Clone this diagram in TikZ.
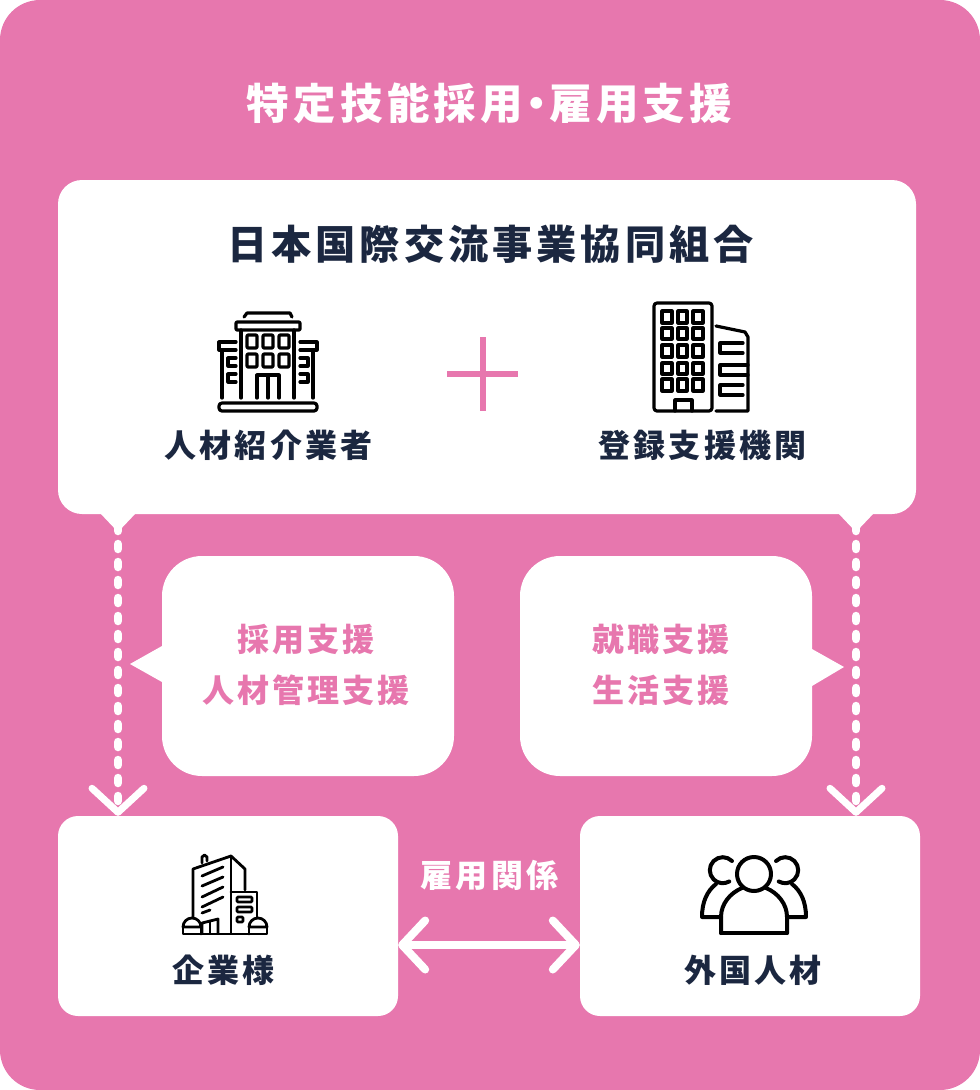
\documentclass[tikz,border=0pt]{standalone}
\usepackage{fontspec}
\usetikzlibrary{arrows.meta}
\newfontfamily\jpfont[LetterSpace=10]{Noto Sans CJK JP}
\definecolor{panelpink}{HTML}{E777AE}
\definecolor{inknavy}{HTML}{1B2740}
\tikzset{
    labeltext/.style={font=\jpfont\bfseries\fontsize{32}{51}\selectfont, text=inknavy, inner sep=0pt},
    whitebox/.style={fill=white, inner sep=0pt},
    iconline/.style={draw=black, line width=3.2pt, line cap=round, line join=round},
    dotline/.style={line width=8.5pt, line cap=round, dash pattern=on 5pt off 13pt, -{Straight Barb[length=24pt, width=52pt, line width=7pt, round]}},
    bothways/.style={line width=8pt, {Straight Barb[length=23pt, width=49pt, line width=8pt, round]}-{Straight Barb[length=23pt, width=49pt, line width=8pt, round]}},
}
\begin{document}
\begin{tikzpicture}[x=1pt, y=-1pt]
    \useasboundingbox (0,0) rectangle (980,1090);
    \fill [panelpink, rounded corners=40pt] (0,0) rectangle (980,1090);

    \node [inner sep=0pt, text=white, font=\jpfont\bfseries\fontsize{42.5}{46}\selectfont] (title) at (489.5,103) {特定技能採用\hspace{-8pt}・\hspace{-8pt}雇用支援};

    \begin{scope}[every node/.style={whitebox}]
        \node [rounded corners=24pt, minimum width=858pt, minimum height=334pt] (union) at (487,347) {};
        \node [rounded corners=20pt, minimum width=340pt, minimum height=200pt] (company) at (228,916) {};
        \node [rounded corners=20pt, minimum width=340pt, minimum height=200pt] (talent) at (750,916) {};
    \end{scope}

    % speech bubbles
    \begin{scope}[every node/.style={whitebox, rounded corners=40pt, minimum width=292pt, minimum height=220pt}]
        \node (hiring) at (308,666) {};
        \node (living) at (666,666) {};
    \end{scope}
    \fill [white] (162,646) -- (130,664) -- (162,682) -- cycle;
    \fill [white] (812,649) -- (844,667) -- (812,686) -- cycle;
    \fill [white] (100,513) -- (118,532) -- (136,513) -- cycle;
    \fill [white] (838,513) -- (856,532) -- (874,513) -- cycle;

    \node [labeltext, align=center, text=panelpink] (hiringtext) at (306,665) {採用支援\\人材管理支援};
    \node [labeltext, align=center, text=panelpink] (livingtext) at (661,665) {就職支援\\生活支援};
    \node [labeltext, font=\jpfont\bfseries\fontsize{40.2}{44}\selectfont] (unionname) at (490.5,244) {日本国際交流事業協同組合};
    \node [labeltext] (agency) at (268.5,445) {人材紹介業者};
    \node [labeltext] (support) at (702.5,445) {登録支援機関};
    \node [labeltext] (companyname) at (223.5,970) {企業様};
    \node [labeltext] (talentname) at (753,970) {外国人材};
    \node [labeltext, text=white] (employ) at (489.5,875) {雇用関係};

    % plus sign
    \draw [panelpink, line width=6pt] (447,374) -- (518,374);
    \draw [panelpink, line width=6pt] (483,337) -- (483,411);

    % connectors
    \coordinate (leftstart) at (118,526);
    \coordinate (rightstart) at (856,526);
    \coordinate (leftend) at (company.north -| leftstart);
    \coordinate (rightend) at (talent.north -| rightstart);
    \begin{scope}[
            every edge/.style={draw=white}]
        \path [dotline] (leftstart) edge (leftend);
        \path [dotline] (rightstart) edge (rightend);
        \path [bothways] (company.east |- 0,945) edge (talent.west |- 0,945);
    \end{scope}

    % icon: low building
    \begin{scope}[every path/.style={iconline}]
        \draw (244,317) -- (247,313) -- (290,313) -- (292,317);
        \draw [rounded corners=1pt] (236,322) rectangle (300,330);
        \draw (241,330) -- (241,398);
        \draw (294,330) -- (294,398);
        \foreach \wx in {247,263,279} {
            \draw [rounded corners=1pt] (\wx,335) rectangle (\wx+10,348);
            \draw [rounded corners=1pt] (\wx,354) rectangle (\wx+10,367);
        }
        \draw (257,398) -- (257,375) -- (279,375) -- (279,398);
        \draw (268,375) -- (268,398);
        \draw (236,342) -- (219,342) -- (219,350) -- (236,350);
        \draw (300,342) -- (317,342) -- (317,350) -- (300,350);
        \draw (222,350) -- (222,398);
        \draw (313,350) -- (313,398);
        \foreach \wy in {358,374} {
            \draw (236,\wy) -- (228,\wy) -- (228,\wy+8) -- (236,\wy+8);
            \draw (300,\wy) -- (308,\wy) -- (308,\wy+8) -- (300,\wy+8);
        }
        \draw [rounded corners=3pt] (219,403) rectangle (317,411);
    \end{scope}

    % icon: tower
    \begin{scope}[every path/.style={iconline}]
        \draw [rounded corners=3pt] (654,303) rectangle (712,411);
        \foreach \wy/\wh in {311/12,328/11,345/12,363/11,379/12} {
            \draw (662,\wy) rectangle (672,\wy+\wh);
            \draw (678,\wy) rectangle (687,\wy+\wh);
            \draw (693,\wy) rectangle (703,\wy+\wh);
        }
        \draw (675,411) -- (675,400) -- (692,400) -- (692,411);
        \draw (716,326) -- (745,332) -- (748,337) -- (748,411) -- (716,411);
        \draw (743,343) -- (720,343) -- (720,353) -- (743,353);
        \draw (748,365) -- (720,365) -- (720,375) -- (748,375);
        \draw (743,385) -- (720,385) -- (720,395) -- (743,395);
    \end{scope}

    % icon: company building
    \begin{scope}[every path/.style={iconline, line width=2.8pt}]
        \draw (193,917) -- (193,869) -- (231,856) -- (245,869) -- (245,890);
        \draw (231,856) -- (231,933);
        \draw (202,863) -- (202,857) -- (204.5,855) -- (207,857) -- (207,861);
        \draw (202,876) -- (223,867);
        \draw (202,886) -- (223,877);
        \draw (202,897) -- (223,887);
        \draw (202,907) -- (223,897);
        \draw (202,913) -- (210,910);
        \draw (202,933) -- (202,923) -- (218,919) -- (218,933);
        \draw (210,933) -- (210,921);
        \draw (231,892) -- (257,892) -- (257,917);
        \draw [rounded corners=1pt] (237,897) rectangle (252,902);
        \draw [rounded corners=1pt] (237,907) rectangle (252,912);
        \draw [rounded corners=1pt] (237,917) rectangle (243,922);
        \draw (183,927) arc [start angle=180, end angle=360, radius=9] -- cycle;
        \draw (249,927) arc [start angle=180, end angle=360, radius=9] -- cycle;
        \draw (183,927) -- (183,934) -- (267,934) -- (267,927);
        \draw (201,927) -- (201,934);
        \draw (249,927) -- (249,934);
    \end{scope}

    % icon: people
    \begin{scope}[every path/.style={iconline, line width=4pt}]
        \draw (754,874) circle (17);
        \draw (721,933) -- (721,917) .. controls (721,904) and (730,893) .. (742,888);
        \draw (787,933) -- (787,917) .. controls (787,904) and (778,893) .. (766,888);
        \draw (721,933) -- (787,933);
        \draw (732,861) arc [start angle=-45, end angle=-300, radius=13];
        \draw (776,861) arc [start angle=-135, end angle=120, radius=13];
        \draw (721,917) -- (702,917) .. controls (702,902) and (707,891) .. (716,884);
        \draw (787,917) -- (806,917) .. controls (806,902) and (801,891) .. (792,884);
    \end{scope}
\end{tikzpicture}
\end{document}
